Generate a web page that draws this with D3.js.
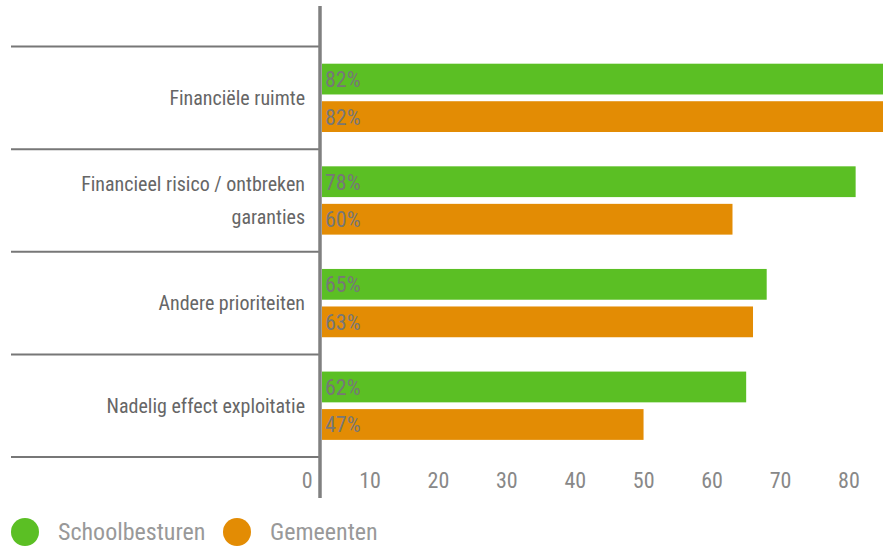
<!DOCTYPE html>
<html>
<head>
<meta charset="utf-8">
<script src="https://cdn.jsdelivr.net/npm/d3@7"></script>
<style>
  body { margin: 0; background: #fff; }
  svg text { font-family: "Liberation Sans Narrow", "Roboto Condensed", "DejaVu Sans Condensed", sans-serif; }
</style>
</head>
<body>
<div id="chart"></div>
<script>
// data
const categories = ["Financiële ruimte", "Financieel risico / ontbreken garanties", "Andere prioriteiten", "Nadelig effect exploitatie"];
const labelLines = [["Financiële ruimte"], ["Financieel risico / ontbreken", "garanties"], ["Andere prioriteiten"], ["Nadelig effect exploitatie"]];
const seriesNames = ["Schoolbesturen", "Gemeenten"];
const schoolbesturen = [82, 78, 65, 62];
const gemeenten = [82, 60, 63, 47];
const tickValues = [0, 10, 20, 30, 40, 50, 60, 70, 80];
const colors = ["#5bbf24", "#e38c04"];

const W = 887, H = 546;
const svg = d3.select("#chart").append("svg").attr("width", W).attr("height", H);

// scales
const x = d3.scaleLinear().domain([0, 82]).range([322, 883]);
const y = d3.scaleBand().domain(categories).range([46.5, 457]);
const inner = d3.scaleBand().domain(seriesNames).range([17.2, 85.5]).paddingInner(0.18);

const series = [schoolbesturen, gemeenten];

// separator lines between categories
const seps = categories.map(c => y(c)).concat([y.range()[1]]);
svg.append("g").selectAll("line").data(seps).enter().append("line")
  .attr("x1", 11).attr("x2", 320).attr("y1", d => d).attr("y2", d => d)
  .attr("stroke", "#777").attr("stroke-width", 2);

// category labels
const lab = svg.append("g").selectAll("text").data(categories).enter().append("text")
  .attr("text-anchor", "end")
  .attr("fill", "#666")
  .style("font-size", "20px");
lab.each(function(d, i) {
  const lines = labelLines[i];
  const mid = y(d) + y.bandwidth() / 2;
  const lh = 33;
  const start = mid - (lines.length - 1) * lh / 2;
  d3.select(this).selectAll("tspan").data(lines).enter().append("tspan")
    .attr("x", 305).attr("y", (l, j) => start + j * lh).attr("dy", "0.35em").text(l => l);
});

// bars
const groups = svg.append("g").selectAll("g").data(categories).enter().append("g")
  .attr("transform", d => "translate(0," + y(d) + ")");
groups.selectAll("rect").data((d, i) => series.map((s, k) => ({ k: k, v: s[i] }))).enter().append("rect")
  .attr("x", x(0)).attr("y", d => inner(seriesNames[d.k]))
  .attr("width", d => x(d.v) - x(0))
  .attr("height", inner.bandwidth())
  .attr("fill", d => colors[d.k]);
groups.selectAll("text").data((d, i) => series.map((s, k) => ({ k: k, v: s[i] }))).enter().append("text")
  .attr("x", x(0) + 3).attr("y", d => inner(seriesNames[d.k]) + inner.bandwidth() / 2)
  .attr("dy", "0.36em")
  .attr("fill", "#777")
  .style("font-size", "22px")
  .text(d => d.v + "%");

// x axis tick labels
const axis = d3.axisBottom(x).tickValues(tickValues).tickSize(0).tickPadding(0);
const ax = svg.append("g").attr("transform", "translate(0,480)").call(axis);
ax.select(".domain").remove();
ax.selectAll("text").attr("text-anchor", "end").attr("x", -10).attr("y", 0).attr("dy", "0.35em")
  .attr("fill", "#888").style("font-size", "22px")
  .style("font-family", '"Liberation Sans Narrow", "Roboto Condensed", sans-serif');

// vertical axis line
svg.append("line").attr("x1", 320).attr("x2", 320).attr("y1", 6).attr("y2", 498)
  .attr("stroke", "#808080").attr("stroke-width", 3.5);

// legend
const legX = [25, 237];
const leg = svg.append("g").selectAll("g").data(seriesNames).enter().append("g")
  .attr("transform", (d, i) => "translate(" + legX[i] + ",532)");
leg.append("circle").attr("r", 14).attr("fill", (d, i) => colors[i]);
leg.append("text").attr("x", 33).attr("dy", "0.35em").attr("fill", "#999")
  .style("font-size", "24px").text(d => d);
</script>
</body>
</html>
